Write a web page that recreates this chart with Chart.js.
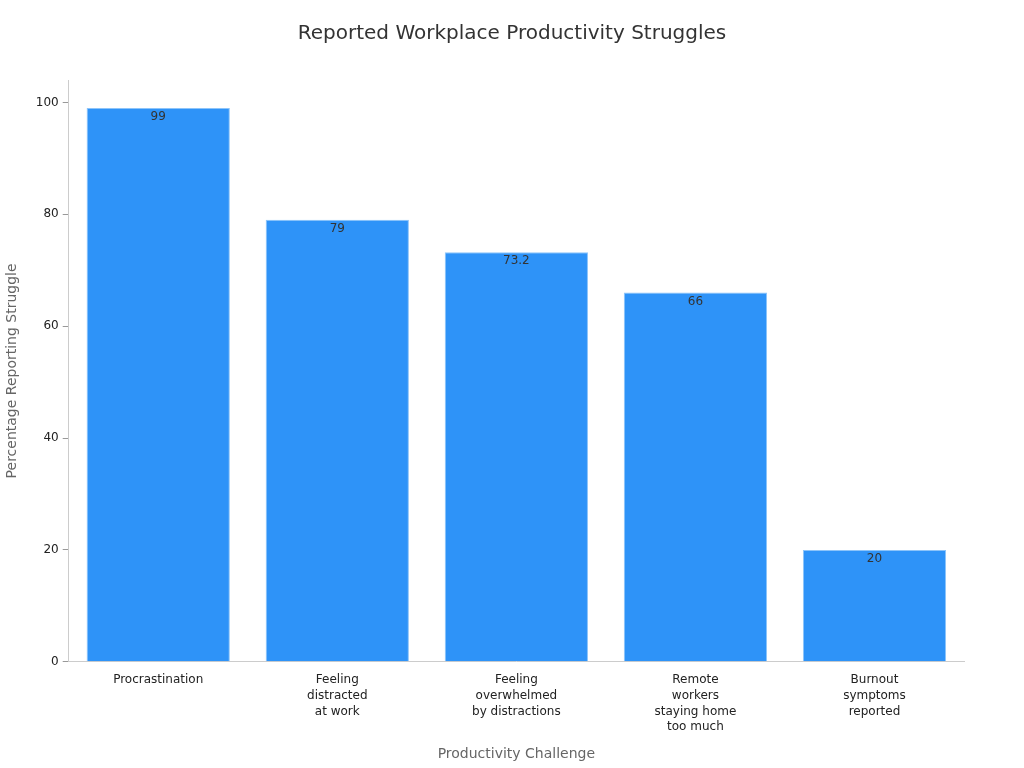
<!DOCTYPE html>
<html>
<head>
<meta charset="utf-8">
<script src="https://cdn.jsdelivr.net/npm/chart.js@4"></script>
<style>
  body { margin: 0; background: #fff; }
  #wrap { width: 1024px; height: 768px; }
</style>
</head>
<body>
<div id="wrap"><canvas id="chart"></canvas></div>
<script>
const categories = [
    ["Procrastination"],
    ["Feeling", "distracted", "at work"],
    ["Feeling", "overwhelmed", "by distractions"],
    ["Remote", "workers", "staying home", "too much"],
    ["Burnout", "symptoms", "reported"]
];
const percentages = [99, 79, 73.2, 66, 20];
const yTicks = [0, 20, 40, 60, 80, 100];
const chartTitle = 'Reported Workplace Productivity Struggles';

Chart.defaults.font.family = "'DejaVu Sans', sans-serif";

// value labels just under each bar top, and the title centred on the page
const barLabels = {
    id: 'barLabels',
    afterDatasetsDraw(chart) {
        const ctx = chart.ctx;
        const meta = chart.getDatasetMeta(0);
        ctx.save();
        ctx.font = "12px 'DejaVu Sans'";
        ctx.fillStyle = '#333';
        ctx.textAlign = 'center';
        ctx.textBaseline = 'top';
        meta.data.forEach((bar, i) => {
            ctx.fillText(String(percentages[i]), bar.x, bar.y + 3);
        });
        ctx.font = "20px 'DejaVu Sans'";
        ctx.textBaseline = 'middle';
        ctx.fillText(chartTitle, chart.width / 2, 34);
        ctx.restore();
    }
};

new Chart(document.getElementById('chart'), {
    type: 'bar',
    data: {
        labels: categories,
        datasets: [{
            data: percentages,
            backgroundColor: '#2E93F8',
            borderColor: '#8CC4FA',
            borderWidth: 1,
            categoryPercentage: 0.8,
            barPercentage: 1.0
        }]
    },
    options: {
        responsive: true,
        maintainAspectRatio: false,
        animation: false,
        layout: { padding: { top: 80, right: 60, left: 0, bottom: 1 } },
        scales: {
            x: {
                grid: { display: false },
                border: { color: '#ccc' },
                ticks: { color: '#222', font: { size: 12, lineHeight: 1.32 }, maxRotation: 0, padding: 2 },
                title: { display: true, text: 'Productivity Challenge', color: '#666', font: { size: 14 }, padding: { top: 9 } }
            },
            y: {
                min: 0,
                max: 104,
                afterBuildTicks(axis) { axis.ticks = yTicks.map(v => ({ value: v })); },
                grid: { display: true, drawOnChartArea: false, drawTicks: true, tickLength: 6, color: '#999' },
                border: { color: '#ccc' },
                ticks: { color: '#222', font: { size: 12 }, padding: 4 },
                title: { display: true, text: 'Percentage Reporting Struggle', color: '#666', font: { size: 14 }, padding: { bottom: 11 } }
            }
        },
        plugins: {
            legend: { display: false },
            tooltip: { enabled: false },
            title: { display: false }
        }
    },
    plugins: [barLabels]
});
</script>
</body>
</html>
